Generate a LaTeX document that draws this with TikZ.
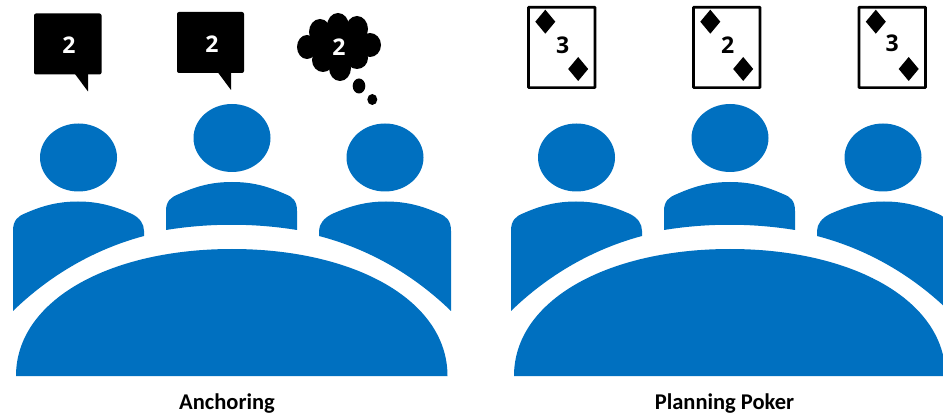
\documentclass[tikz,border=0pt]{standalone}
\usepackage{fontspec}
\setmainfont{Carlito}
\newfontfamily\digitfont{Open Sans}
\usepackage{tikz}
\definecolor{seatblue}{HTML}{0070C0}
\tikzset{
    seat/.style={fill=seatblue},
    digit/.style={font=\digitfont\bfseries\fontsize{23}{23}\selectfont, inner sep=0pt},
    caption/.style={font=\bfseries\fontsize{22.5}{22.5}\selectfont, inner sep=0pt},
    bubble/.style={fill=black, rounded corners=2pt},
    card/.style={draw=black, line width=2.6pt, fill=white, rounded corners=0.5pt}
}
\begin{document}
\begin{tikzpicture}[x=1pt, y=-1pt]
    \useasboundingbox (0,0) rectangle (943,414);
    \clip (0,0) rectangle (943,414);
    % people and table
    \foreach \i in {0,498}{
    \begin{scope}[xshift=\i pt]
        \foreach \x/\y in {78.5/157.5, 232/138, 385/157.5}{\fill[seat] (\x, \y) ellipse (38.5 and 34);}
        \fill[seat] (13,311) -- (13,231) .. controls (13,220) and (18,216) .. (26,213) .. controls (44,205) and (60,201.5) .. (78,201.5) .. controls (98,201.5) and (114,206) .. (132,214) .. controls (140,218) and (144,224) .. (144,231) -- (144,236) .. controls (95,249) and (50,275) .. (13,311) -- cycle;
        \fill[seat] (451,311) -- (451,231) .. controls (451,220) and (446,216) .. (438,213) .. controls (420,205) and (404,201.5) .. (386,201.5) .. controls (366,201.5) and (350,206) .. (332,214) .. controls (324,218) and (319,224) .. (319,231) -- (319,236) .. controls (369,249) and (414,275) .. (451,311) -- cycle;
        \fill[seat] (166,230) -- (166,211) .. controls (166,201) and (171,197) .. (179,194) .. controls (197,186) and (212,182) .. (232,182) .. controls (252,182) and (267,186) .. (285,194) .. controls (293,197) and (297,201) .. (297,211) -- (297,230) .. controls (254,223) and (209,223) .. (166,230) -- cycle;
        \fill[seat] (16,376) .. controls (16,300) and (110,249) .. (232,249) .. controls (354,249) and (447.5,300) .. (447.5,376) -- cycle;
    \end{scope}
    }
    % speech bubbles
    \fill[bubble] (34,13.5) rectangle (101.5,74.5);
    \fill[black] (75,74) -- (88,91.5) -- (88,74) -- cycle;
    \node[digit, text=white] (saidleft) at (69,45.5) {2};
    \fill[bubble] (177,12) rectangle (244,73);
    \fill[black] (218,72.5) -- (231,90) -- (231,72.5) -- cycle;
    \node[digit, text=white] (saidmid) at (212,44) {2};
    % thought cloud
    \foreach \x/\y/\a/\b in {307/47/10/12, 320/32/11/13, 338/26/11/13, 357/29/11/13, 370/45/11/12, 357/58/11/11, 340/68/11/13, 323/60/11/12, 338/46/24/20}{\fill[black] (\x, \y) ellipse [x radius=\a, y radius=\b];}
    \fill[black] (359,86) ellipse (6.3 and 7.5);
    \fill[black] (372.3,99.5) ellipse (5 and 5.5);
    \node[digit, text=white] (thoughtright) at (339,47) {2};
    % cards
    \foreach \x in {528.5, 693.5, 859}{
        \draw[card] (\x, 7.3) rectangle ++(66.5, 80.3);
        \fill[black] (\x+16.8, 9.7) -- ++(10, 12) -- ++(-10, 12) -- ++(-10, -12) -- cycle;
        \fill[black] (\x+49.7, 57) -- ++(10, 12) -- ++(-10, 12) -- ++(-10, -12) -- cycle;
    }
    \node[digit] (cardleft) at (562.7,45) {3};
    \node[digit] (cardmid) at (727.7,45) {2};
    \node[digit] (cardright) at (892.3,43) {3};
    % captions
    \node[caption] (anchoring) at (227,403.5) {Anchoring};
    \node[caption] (poker) at (724.5,403.5) {Planning Poker};
\end{tikzpicture}
\end{document}
